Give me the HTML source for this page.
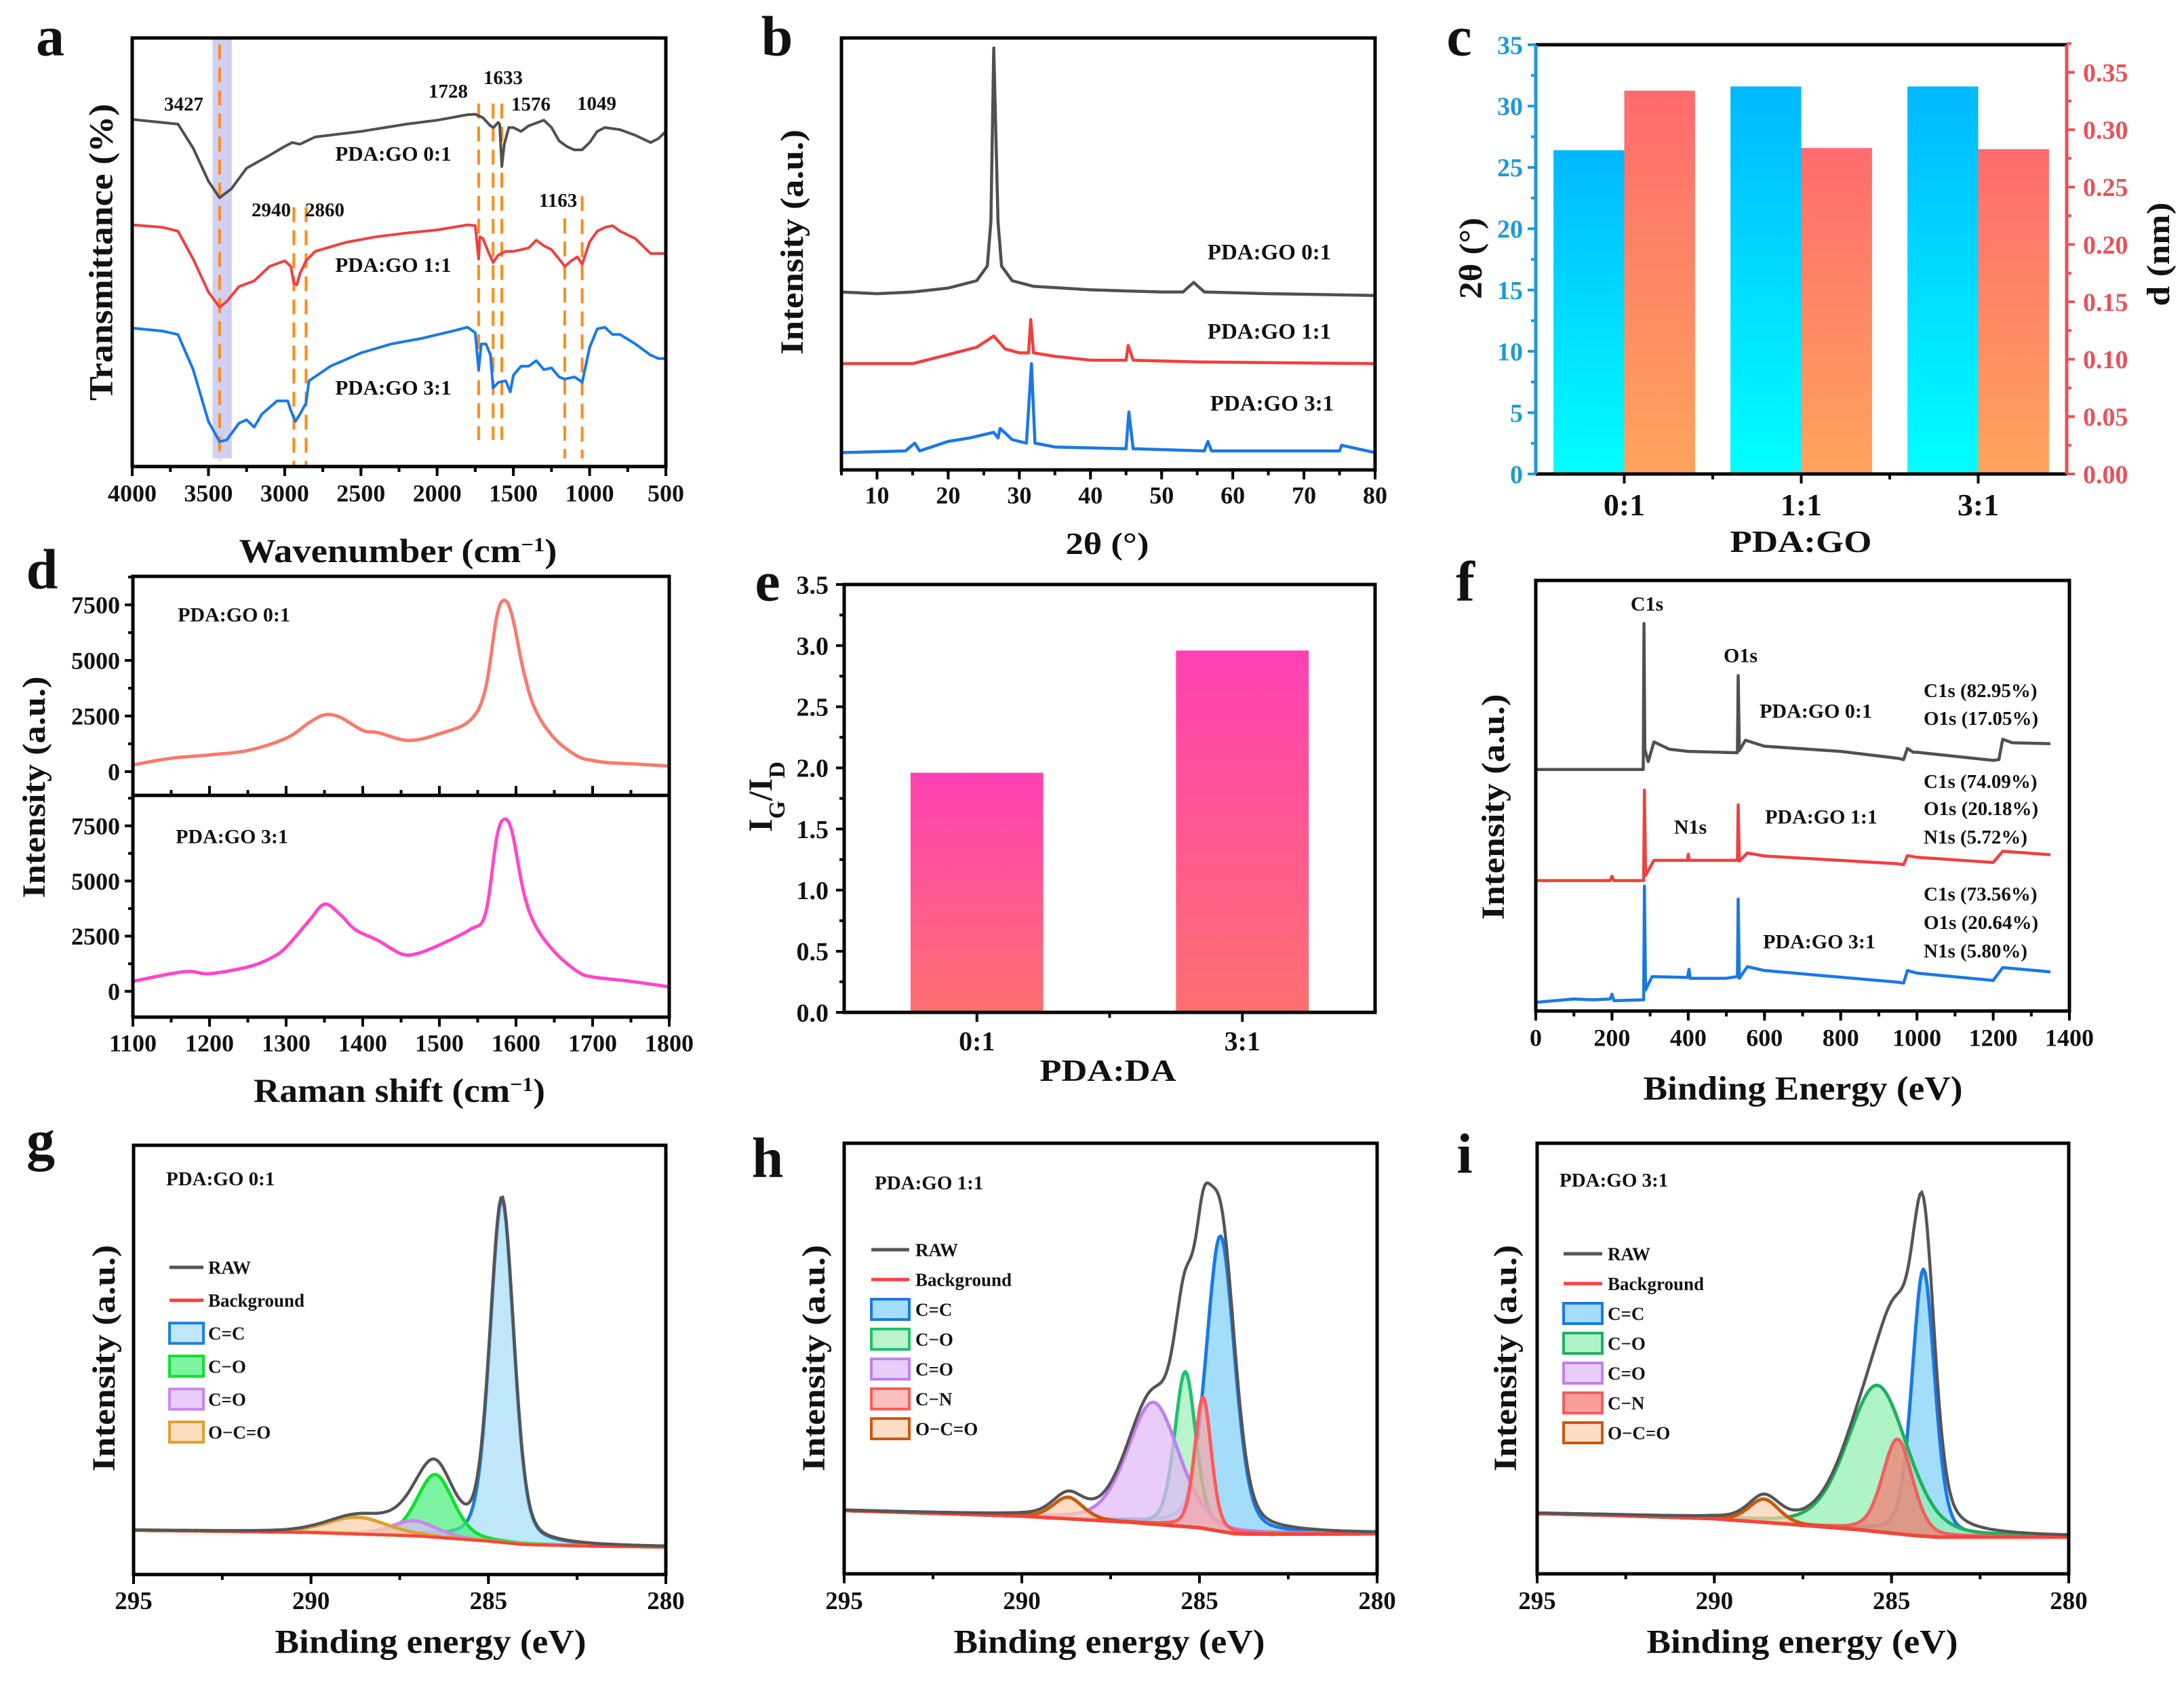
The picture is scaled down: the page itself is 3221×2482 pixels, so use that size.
<!DOCTYPE html>
<html><head><meta charset="utf-8"><style>
html,body{margin:0;padding:0;background:#fff}
svg{display:block}
text{font-family:"Liberation Serif","Times New Roman",serif;font-weight:bold;fill:#111}
</style></head><body>
<svg id="fig" xmlns="http://www.w3.org/2000/svg" width="3221" height="2482" viewBox="0 0 3221 2482"></svg>
<script>
// ---------- DATA ----------
// (a) FTIR
const ftirBlackWn=[4000,3700,3600,3500,3427,3350,3250,3100,3000,2950,2900,2800,2500,2200,2000,1800,1750,1700,1650,1630,1600,1590,1576,1560,1530,1500,1450,1400,1300,1250,1200,1150,1100,1050,1000,950,900,800,700,600,550,500];
const ftirBlackT=[81.0,79.9,74.3,66.6,62.7,64.8,69.6,72.6,74.7,75.6,75.2,76.9,78.2,79.9,80.8,82.1,82.2,81.4,79.5,79.1,80.3,79.9,70.0,75.2,79.1,79.1,78.2,79.5,80.8,79.1,76.0,74.7,73.9,73.9,75.6,78.2,79.1,78.6,77.3,75.6,76.5,78.2];
const ftirRedWn=[4000,3800,3700,3600,3500,3427,3380,3300,3200,3100,3000,2960,2940,2920,2900,2860,2800,2600,2400,2200,2000,1800,1750,1728,1720,1700,1660,1633,1600,1550,1500,1450,1400,1350,1300,1250,1200,1163,1120,1080,1049,1000,950,900,850,800,700,600,500];
const ftirRedT=[56.4,55.8,54.9,48.4,40.7,37.2,38.5,42.0,43.3,46.7,48.0,46.7,42.8,42.4,45.0,48.0,50.2,52.3,53.6,54.5,55.2,56.4,56.2,48.4,53.6,53.2,49.7,47.6,49.3,50.2,50.2,50.6,51.0,52.8,51.5,50.6,48.4,46.7,48.0,48.9,47.2,52.4,54.9,55.8,56.2,54.9,53.2,49.7,49.7];
const ftirBlueWn=[4000,3800,3700,3600,3500,3427,3380,3300,3250,3200,3150,3050,2980,2960,2930,2900,2860,2840,2700,2500,2300,2100,1900,1800,1750,1728,1710,1680,1650,1633,1600,1550,1520,1500,1450,1400,1350,1300,1250,1200,1163,1100,1060,1049,1000,950,900,850,800,700,600,550,500];
const ftirBlueT=[32.3,31.6,30.8,22.6,10.5,5.8,6.2,10.1,10.9,9.2,12.2,15.3,15.3,13.1,10.5,12.2,14.8,20.0,23.4,26.5,28.6,29.9,31.6,32.5,31.2,22.6,28.6,28.6,26.0,18.3,19.6,20.0,17.4,21.3,23.4,23.4,24.7,22.6,23.0,20.9,20.4,20.9,20.0,19.6,27.8,32.1,32.5,30.8,30.8,28.6,26.0,25.2,25.2];
const ftirMarks=[3427,2940,2860,1728,1633,1576,1163,1049];
const ftirMarkTop=[98.5,60.5,60.5,84.7,84.7,84.7,57.9,63.1];
const ftirMarkBot=[1.5,0,0,6.2,6.2,6.2,1.9,1.9];
const ftirTicks=[4000,3500,3000,2500,2000,1500,1000,500];
// (b) XRD
const xrdBlackX=[5,10,15,20,24,25.5,26,26.4,27,27.5,29,32,40,50,53,54.5,56,65,80];
const xrdBlackY=[41.2,40.8,41.2,42.1,43.8,47.2,57.5,97.7,57.5,47.2,43.8,42.5,41.7,41.2,41.2,43.4,41.2,40.8,40.4];
const xrdRedX=[5,15,20,24,26.4,28,30,31.3,31.6,32,35,40,45,45.3,46,55,80];
const xrdRedY=[24.6,24.6,26.7,28.4,31.0,28.0,27.1,27.1,34.8,27.1,26.3,25.4,25.4,28.8,25.4,25.0,24.6];
const xrdBlueX=[5,14,15.3,16,20,23,26.4,27,27.3,29,31,31.7,32.2,35,45,45.4,46,56,56.5,57,75,75.3,80];
const xrdBlueY=[4.0,4.4,6.2,4.4,6.6,7.4,8.7,7.4,9.6,7.0,6.2,24.6,6.2,5.3,4.9,13.4,4.9,4.4,6.6,4.4,4.4,5.7,4.0];
const xrdTicks=[10,20,30,40,50,60,70,80];
// (c) bars
const cCats=['0:1','1:1','3:1'];
const cTheta=[26.4,31.6,31.6];
const cD=[0.334,0.284,0.283];
const cLeftTicks=[0,5,10,15,20,25,30,35];
const cRightTicks=[0,0.05,0.10,0.15,0.20,0.25,0.30,0.35];
// (d) Raman
const ramanTopX=[1100,1150,1200,1250,1300,1330,1350,1370,1400,1420,1460,1500,1540,1560,1575,1585,1595,1610,1625,1650,1680,1700,1720,1750,1800];
const ramanTopY=[300,600,750,950,1500,2200,2550,2450,1850,1750,1400,1700,2300,3700,7000,7700,7000,4500,2800,1500,700,500,400,350,250];
const ramanBotX=[1100,1150,1175,1200,1250,1280,1300,1330,1350,1370,1390,1420,1450,1470,1500,1540,1560,1575,1585,1595,1610,1625,1650,1680,1700,1750,1800];
const ramanBotY=[450,800,900,800,1100,1500,2000,3200,3950,3500,2800,2300,1700,1700,2100,2800,3500,7000,7800,7200,4500,3000,1800,900,650,450,200];
const ramanXTicks=[1100,1200,1300,1400,1500,1600,1700,1800];
const ramanYTicks=[0,2500,5000,7500];
// (e) IG/ID
const eCats=['0:1','3:1'];
const eRatio=[1.96,2.96];
const eTicks=[0,0.5,1.0,1.5,2.0,2.5,3.0,3.5];
// (f) XPS survey
const surBlackX=[0,270,282,284,286,295,310,350,400,520,529,531,534,550,600,800,950,965,975,990,1000,1200,1215,1225,1250,1350];
const surBlackY=[56.1,56.1,56.1,90.0,60.8,57.9,62.5,60.8,60.3,60.0,60.0,77.9,60.5,62.9,61.5,60.3,58.7,58.4,61.0,60.1,60.1,58.2,58.4,63.1,62.3,62.1];
const surRedX=[0,195,200,205,280,283,285,288,310,398,400,402,500,529,531,534,555,600,950,965,975,1000,1200,1225,1350];
const surRedY=[30.3,30.3,31.3,30.3,30.3,30.3,51.3,31.5,35.0,35.0,36.4,35.0,35.0,35.0,47.9,34.8,36.7,36.0,34.2,34.0,36.1,35.7,34.5,37.1,36.3];
const surBlueX=[0,100,150,195,200,205,280,283,285,288,305,398,402,405,500,529,531,534,555,600,950,965,975,1000,1200,1225,1350];
const surBlueY=[2.0,2.8,2.6,2.8,3.9,2.4,2.6,2.6,29.0,4.9,8.0,7.8,9.7,7.6,7.6,8.0,26.0,7.6,10.3,9.4,6.7,6.5,9.4,8.8,7.1,10.1,9.1];
const surTicks=[0,200,400,600,800,1000,1200,1400];
// (g,h,i) C1s
const xpsTicks=[295,290,285,280];
const gBgX=[295,290,287,285,284,282,280];
const gBgY=[10.3,9.8,9.0,7.8,7.0,6.6,6.4];
const gNames=['C=C','C−O','C=O','O−C=O'];
const gCenters=[284.62,286.5,287.1,288.7];
const gHeights=[80,14.6,3.5,3.9];
const gFwhm=[0.8,1.2,1.5,2.0];
const hBgX=[295,290,287,285,284,283,280];
const hBgY=[14.7,13.4,12.0,10.7,9.3,9.2,9.3];
const hNames=['C=C','C−O','C=O','C−N','O−C=O'];
const hCenters=[284.41,285.4,286.3,284.9,288.7];
const hHeights=[68.6,36,28.3,30.5,5];
const hFwhm=[0.95,0.7,1.7,0.55,1.0];
const iBgX=[295,293,290,288,286,284.5,283.7,280];
const iBgY=[14.0,13.6,12.8,11.6,10.3,9.0,8.5,8.5];
const iNames=['C=C','C−O','C=O','C−N','O−C=O'];
const iCenters=[284.1,285.4,286.5,284.83,288.6];
const iHeights=[62,34,0,22,5.4];
const iFwhm=[0.75,2.0,1.5,1.0,1.0];

// ---------- HELPERS ----------
const NS='http://www.w3.org/2000/svg';
const svg=document.getElementById('fig');
function mk(tag,attrs,parent){const e=document.createElementNS(NS,tag);for(const k in attrs)e.setAttribute(k,attrs[k]);(parent||svg).appendChild(e);return e;}
function lin(d0,d1,r0,r1){return v=>r0+(v-d0)*(r1-r0)/(d1-d0);}
function T(s,x,y,fs,anchor,parent,extra){const a={x:x,y:y+fs*0.35,'font-size':fs,'text-anchor':anchor||'middle'};if(extra)for(const k in extra)a[k]=extra[k];const e=mk('text',a,parent);e.textContent=s;return e;}
function VT(s,x,y,fs,len,parent){const e=mk('text',{x:0,y:fs*0.35,'font-size':fs,'text-anchor':'middle',transform:'translate('+x+','+y+') rotate(-90)',textLength:len,lengthAdjust:'spacingAndGlyphs'},parent);e.textContent=s;return e;}
function path(xs,ys,sx,sy){return xs.map((x,i)=>(i?'L':'M')+sx(x).toFixed(1)+','+sy(ys[i]).toFixed(1)).join('');}
function smooth(xs,ys,sx,sy){const P=xs.map((x,i)=>[sx(x),sy(ys[i])]);let d='M'+P[0][0].toFixed(1)+','+P[0][1].toFixed(1);for(let i=0;i<P.length-1;i++){const p0=P[Math.max(0,i-1)],p1=P[i],p2=P[i+1],p3=P[Math.min(P.length-1,i+2)];const c1=[p1[0]+(p2[0]-p0[0])/6,p1[1]+(p2[1]-p0[1])/6],c2=[p2[0]-(p3[0]-p1[0])/6,p2[1]-(p3[1]-p1[1])/6];d+='C'+c1[0].toFixed(1)+','+c1[1].toFixed(1)+' '+c2[0].toFixed(1)+','+c2[1].toFixed(1)+' '+p2[0].toFixed(1)+','+p2[1].toFixed(1);}return d;}
function frame(name,x0,y0,x1,y1,parent){const r=mk('rect',{x:x0,y:y0,width:x1-x0,height:y1-y0,fill:'none',stroke:'#000','stroke-width':5},parent);

return r;}
function tickLine(x1,y1,x2,y2,color,parent,name){const l=mk('line',{x1:x1,y1:y1,x2:x2,y2:y2,stroke:color||'#000','stroke-width':4},parent);

return l;}
function xAxis(g,sx,majors,minorStep,y,labY,fs,fmt,name,lo,hi){
  majors.forEach(v=>{tickLine(sx(v),y,sx(v),y+14,'#000',g,name+'-tick');
    const t=T(fmt?fmt(v):String(v),sx(v),labY,fs,'middle',g);
    
    });
  if(minorStep){const a=Math.min(lo,hi),b=Math.max(lo,hi);for(let v=a;v<=b+1e-9;v+=minorStep){tickLine(sx(v),y,sx(v),y+8,'#000',g,name+'-minor-tick');}}
}
function group(name){const g=mk('g',{});

return g;}
function letter(s,x,y){const t=T(s,x,y,84,'middle');

}
function interp(xs,ys,x){for(let i=0;i<xs.length-1;i++){const a=xs[i],b=xs[i+1];if((x-a)*(x-b)<=0){return ys[i]+(ys[i+1]-ys[i])*(x-a)/(b-a);}}return ys[ys.length-1];}
function pv(x,c,h,w){const u=(x-c)/w;return h*(0.7*Math.exp(-4*Math.LN2*u*u)+0.3/(1+4*u*u));}

// ---------- PANEL A ----------
(function(){const g=group('panel-a-ftir');const X0=195,X1=982,Y0=56,Y1=688;
const sx=lin(4000,500,X0,X1),sy=lin(0,100,Y1,Y0);
const band=mk('rect',{x:sx(3473),y:Y0,width:sx(3347)-sx(3473),height:Y1-Y0-12,fill:'#c8c8f0',opacity:0.85},g);


ftirMarks.forEach((w,i)=>{const l=mk('line',{x1:sx(w),x2:sx(w),y1:sy(ftirMarkTop[i]),y2:sy(ftirMarkBot[i]),stroke:'#ff8c1a','stroke-width':4,'stroke-dasharray':'22,12'},g);

});
[[ftirBlackWn,ftirBlackT,'#505050','ftir-line-0-1'],[ftirRedWn,ftirRedT,'#f04040','ftir-line-1-1'],[ftirBlueWn,ftirBlueT,'#1a78e6','ftir-line-3-1']].forEach(s=>{const p=mk('path',{d:path(s[0],s[1],sx,sy),fill:'none',stroke:s[2],'stroke-width':4,'stroke-linejoin':'round'},g);

});
frame('panel-a',X0,Y0,X1,Y1,g);
xAxis(g,sx,ftirTicks,250,Y1,727,36,null,'ftir-x',4000,500);
const lab=[['3427',271,153],['1728',661,134],['1633',742,114],['1576',783,153],['1049',880,152],['2940',400,309],['2860',479,309],['1163',823,295]];
lab.forEach(l=>{const t=T(l[0],l[1],l[2],29,'middle',g);

});
[['PDA:GO 0:1',580,226],['PDA:GO 1:1',580,390],['PDA:GO 3:1',580,571]].forEach(l=>{const t=T(l[0],l[1],l[2],31,'middle',g);

});
const xt=mk('text',{x:587,y:812+17,'font-size':50,'text-anchor':'middle',textLength:469,lengthAdjust:'spacingAndGlyphs'},g);
xt.innerHTML='Wavenumber (cm<tspan baseline-shift="super" font-size="30">−1</tspan>)';


const yt=VT('Transmittance (%)',148,372,50,438,g);


letter('a',74,52);})();

// ---------- PANEL B ----------
(function(){const g=group('panel-b-xrd');const X0=1241,X1=2028,Y0=56,Y1=693;
const sx=lin(5,80,X0,X1),sy=lin(0,100,Y1,Y0);
[[xrdBlackX,xrdBlackY,'#505050','xrd-line-0-1'],[xrdRedX,xrdRedY,'#f04040','xrd-line-1-1'],[xrdBlueX,xrdBlueY,'#1a78e6','xrd-line-3-1']].forEach(s=>{const p=mk('path',{d:path(s[0],s[1],sx,sy),fill:'none',stroke:s[2],'stroke-width':4.5,'stroke-linejoin':'round'},g);

});
frame('panel-b',X0,Y0,X1,Y1,g);
xAxis(g,sx,xrdTicks,5,Y1,730,36,null,'xrd-x',5,80);
[['PDA:GO 0:1',1872,371],['PDA:GO 1:1',1872,488],['PDA:GO 3:1',1876,594]].forEach(l=>{const t=T(l[0],l[1],l[2],33,'middle',g);

});
const xt=T('2θ (°)',1633,801,46,'middle',g,{textLength:123,lengthAdjust:'spacingAndGlyphs'});


const yt=VT('Intensity (a.u.)',1167,357,48,332,g);


letter('b',1146,52);})();

// ---------- PANEL C ----------
(function(){const g=group('panel-c-bars');const X0=2265,X1=3048,Y0=66,Y1=699;
const defs=mk('defs',{},g);
const gb=mk('linearGradient',{id:'gBlue',x1:0,y1:0,x2:0,y2:1},defs);mk('stop',{offset:0,'stop-color':'#00b8ff'},gb);mk('stop',{offset:1,'stop-color':'#00ffff'},gb);
const gr=mk('linearGradient',{id:'gRed',x1:0,y1:0,x2:0,y2:1},defs);mk('stop',{offset:0,'stop-color':'#ff6b6e'},gr);mk('stop',{offset:1,'stop-color':'#ffa45c'},gr);
const sx=lin(0.5,3.5,X0,X1),syL=lin(0,35,Y1,Y0),syR=lin(0,0.374,Y1,Y0);
const bw=(sx(1.4)-sx(1));
cCats.forEach((c,i)=>{const cx=sx(i+1);
const b1=mk('rect',{x:cx-bw,y:syL(cTheta[i]),width:bw,height:Y1-syL(cTheta[i]),fill:'url(#gBlue)'},g);


const b2=mk('rect',{x:cx,y:syR(cD[i]),width:bw,height:Y1-syR(cD[i]),fill:'url(#gRed)'},g);


tickLine(cx,Y1,cx,Y1+14,'#000',g,'c-x-tick');
const t=T(c,cx,744,46,'middle',g);

});
[1.5,2.5].forEach(v=>tickLine(sx(v),Y1,sx(v),Y1+8,'#000',g,'c-x-minor-tick'));
const top=mk('line',{x1:X0,x2:X1,y1:Y0,y2:Y0,stroke:'#000','stroke-width':5},g);
const bot=mk('line',{x1:X0,x2:X1,y1:Y1,y2:Y1,stroke:'#000','stroke-width':5},g);
const la=mk('line',{x1:X0,x2:X0,y1:Y0,y2:Y1,stroke:'#1e9ad6','stroke-width':5},g);
const ra=mk('line',{x1:X1,x2:X1,y1:Y0,y2:Y1,stroke:'#e8525a','stroke-width':5},g);
cLeftTicks.forEach(v=>{tickLine(X0,syL(v),X0-12,syL(v),'#1e9ad6',g,'c-left-tick');
const t=T(String(v),2246,syL(v),38,'end',g,{style:'fill:#1e9ad6'});


if(v<35)tickLine(X0,syL(v+2.5),X0-7,syL(v+2.5),'#1e9ad6',g,'c-left-minor-tick');});
cRightTicks.forEach(v=>{tickLine(X1,syR(v),X1+12,syR(v),'#e8525a',g,'c-right-tick');
const t=T(v.toFixed(2),3072,syR(v),38,'start',g,{style:'fill:#e8525a'});


tickLine(X1,syR(v+0.025),X1+7,syR(v+0.025),'#e8525a',g,'c-right-minor-tick');});
const xt=T('PDA:GO',2656,798,46,'middle',g,{textLength:209,lengthAdjust:'spacingAndGlyphs'});


const yl=VT('2θ (°)',2168,381,48,120,g);


const yr=VT('d (nm)',3182,375,48,153,g);


letter('c',2152,52);})();

// ---------- PANEL D ----------
(function(){const g=group('panel-d-raman');const X0=196,X1=987,Y0=850,YM=1173,Y1=1500;
const sx=lin(1100,1800,X0,X1);
const syT=lin(-1070,8780,YM,Y0),syB=lin(-1170,8880,Y1,YM);
const p1=mk('path',{d:smooth(ramanTopX,ramanTopY,sx,syT),fill:'none',stroke:'#f87b6e','stroke-width':5},g);


const p2=mk('path',{d:smooth(ramanBotX,ramanBotY,sx,syB),fill:'none',stroke:'#ff48c8','stroke-width':5},g);


frame('panel-d-top',X0,Y0,X1,YM,g);frame('panel-d-bottom',X0,YM,X1,Y1,g);
ramanXTicks.forEach(v=>{tickLine(sx(v),YM,sx(v),YM-14,'#000',g,'d-top-x-tick');});
for(let v=1150;v<1800;v+=100)tickLine(sx(v),YM,sx(v),YM-8,'#000',g,'d-top-x-minor-tick');
xAxis(g,sx,ramanXTicks,50,Y1,1538,36,null,'raman-x',1100,1800);
[[syT,'top'],[syB,'bottom']].forEach(s=>{ramanYTicks.forEach(v=>{tickLine(X0,s[0](v),X0-12,s[0](v),'#000',g,'d-y-tick');
const t=T(String(v),177,s[0](v),36,'end',g);


tickLine(X0,s[0](v+1250),X0-7,s[0](v+1250),'#000',g,'d-y-minor-tick');});});
const l1=T('PDA:GO 0:1',345,906,30,'middle',g);
const l2=T('PDA:GO 3:1',342,1233,30,'middle',g);
const xt=mk('text',{x:589,y:1608+17,'font-size':50,'text-anchor':'middle',textLength:430,lengthAdjust:'spacingAndGlyphs'},g);
xt.innerHTML='Raman shift (cm<tspan baseline-shift="super" font-size="30">−1</tspan>)';


const yt=VT('Intensity (a.u.)',49,1161,48,327,g);


letter('d',62,838);})();

// ---------- PANEL E ----------
(function(){const g=group('panel-e-ratio');const X0=1245,X1=2028,Y0=862,Y1=1493;
const defs=mk('defs',{},g);
const gp=mk('linearGradient',{id:'gPink',x1:0,y1:0,x2:0,y2:1},defs);mk('stop',{offset:0,'stop-color':'#ff40b4'},gp);mk('stop',{offset:1,'stop-color':'#ff7070'},gp);
const sx=lin(0.5,2.5,X0,X1),sy=lin(0,3.5,Y1,Y0);const bw=sx(1.5)-sx(1);
eCats.forEach((c,i)=>{const cx=sx(i+1);
const b=mk('rect',{x:cx-bw/2,y:sy(eRatio[i]),width:bw,height:Y1-sy(eRatio[i]),fill:'url(#gPink)'},g);


tickLine(cx,Y1,cx,Y1+14,'#000',g,'e-x-tick');
const t=T(c,cx,1535,40,'middle',g);

});
tickLine(sx(1.5),Y1,sx(1.5),Y1+8,'#000',g,'e-x-minor-tick');
frame('panel-e',X0,Y0,X1,Y1,g);
eTicks.forEach(v=>{tickLine(X0,sy(v),X0-12,sy(v),'#000',g,'e-y-tick');
const t=T(v.toFixed(1),1222,sy(v),38,'end',g);


if(v<3.5)tickLine(X0,sy(v+0.25),X0-7,sy(v+0.25),'#000',g,'e-y-minor-tick');});
const xt=T('PDA:DA',1634,1578,46,'middle',g,{textLength:201,lengthAdjust:'spacingAndGlyphs'});


const yt=mk('text',{x:0,y:17,'font-size':50,'text-anchor':'middle',transform:'translate(1121,1175) rotate(-90)'},g);
yt.innerHTML='I<tspan baseline-shift="sub" font-size="34">G</tspan>/I<tspan baseline-shift="sub" font-size="34">D</tspan>';


letter('e',1132,856);})();

// ---------- PANEL F ----------
(function(){const g=group('panel-f-survey');const X0=2265,X1=3052,Y0=856,Y1=1491;
const sx=lin(0,1400,X0,X1),sy=lin(0,100,Y1,Y0);
[[surBlackX,surBlackY,'#505050','survey-line-0-1'],[surRedX,surRedY,'#f04040','survey-line-1-1'],[surBlueX,surBlueY,'#1a78e6','survey-line-3-1']].forEach(s=>{const p=mk('path',{d:path(s[0],s[1],sx,sy),fill:'none',stroke:s[2],'stroke-width':4.5,'stroke-linejoin':'round'},g);

});
frame('panel-f',X0,Y0,X1,Y1,g);
xAxis(g,sx,surTicks,100,Y1,1530,36,null,'survey-x',0,1400);
const labs=[['C1s',2429,890,30,'middle'],['O1s',2567,966,30,'middle'],['N1s',2493,1219,30,'middle'],['PDA:GO 0:1',2678,1048,30,'middle'],['PDA:GO 1:1',2686,1204,30,'middle'],['PDA:GO 3:1',2683,1388,30,'middle'],
['C1s (82.95%)',2837,1018,29,'start'],['O1s (17.05%)',2837,1059,29,'start'],['C1s (74.09%)',2837,1152,29,'start'],['O1s (20.18%)',2837,1192,29,'start'],['N1s  (5.72%)',2837,1234,29,'start'],['C1s (73.56%)',2837,1318,29,'start'],['O1s (20.64%)',2837,1360,29,'start'],['N1s (5.80%)',2837,1402,29,'start']];
labs.forEach(l=>{const t=T(l[0],l[1],l[2],l[3],l[4],g,{'xml:space':'preserve'});

});
const xt=T('Binding Energy (eV)',2659,1604,50,'middle',g,{textLength:471,lengthAdjust:'spacingAndGlyphs'});


const yt=VT('Intensity (a.u.)',2201,1190,48,333,g);


letter('f',2161,856);})();

// ---------- PANELS G H I ----------
function xpsPanel(cfg){const g=group(cfg.name);const X0=cfg.x0,X1=cfg.x1,Y0=cfg.y0,Y1=cfg.y1;
const sx=lin(295,280,X0,X1),sy=lin(0,100,Y1,Y0);
const xs=[];for(let x=295;x>=280-1e-9;x-=0.05)xs.push(+x.toFixed(3));
const bg=xs.map(x=>interp(cfg.bgX,cfg.bgY,x));
cfg.names.forEach((n,k)=>{if(cfg.heights[k]<=0)return;
const top=xs.map((x,i)=>bg[i]+pv(x,cfg.centers[k],cfg.heights[k],cfg.fwhm[k]));
let d=xs.map((x,i)=>(i?'L':'M')+sx(x).toFixed(1)+','+sy(top[i]).toFixed(1)).join('');
for(let i=xs.length-1;i>=0;i--)d+='L'+sx(xs[i]).toFixed(1)+','+sy(bg[i]).toFixed(1);d+='Z';
const p=mk('path',{d:d,fill:cfg.fills[k],'fill-opacity':0.72,stroke:cfg.strokes[k],'stroke-width':5,'stroke-linejoin':'round'},g);

});
const bl=mk('path',{d:path(xs,bg,sx,sy),fill:'none',stroke:'#ff4040','stroke-width':4},g);


const raw=xs.map((x,i)=>bg[i]+cfg.names.reduce((s,n,k)=>s+pv(x,cfg.centers[k],cfg.heights[k],cfg.fwhm[k]),0));
const rl=mk('path',{d:path(xs,raw,sx,sy),fill:'none',stroke:'#555','stroke-width':4.5},g);


frame(cfg.name,X0,Y0,X1,Y1,g);
xAxis(g,sx,xpsTicks,2.5,Y1,2360,37,null,'xps-x',280,295);
const tl=T(cfg.title,cfg.tx,cfg.ty,29,'start',g);


// legend
const L=cfg.leg;let y=L.y0;
const r1=mk('line',{x1:L.x,x2:L.x+L.w,y1:y,y2:y,stroke:'#555','stroke-width':5},g);
const t1=T('RAW',L.tx,y,27,'start',g);y+=L.dy;
const r2=mk('line',{x1:L.x,x2:L.x+L.w,y1:y,y2:y,stroke:'#ff4040','stroke-width':5},g);
const t2=T('Background',L.tx,y,27,'start',g);y+=L.dy;
cfg.names.forEach((n,k)=>{const r=mk('rect',{x:L.x,y:y-15,width:L.w,height:30,fill:cfg.fills[k],'fill-opacity':0.72,stroke:cfg.strokes[k],'stroke-width':4},g);


const t=T(n,L.tx,y,27,'start',g);

y+=L.dy;});
const xt=T('Binding energy (eV)',cfg.xtx,2420,50,'middle',g,{textLength:459,lengthAdjust:'spacingAndGlyphs'});


const yt=VT('Intensity (a.u.)',cfg.ytx,2003,48,334,g);


letter(cfg.letter,cfg.lx,cfg.ly);}

xpsPanel({name:'panel-g-c1s',letter:'g',lx:60,ly:1680,x0:197,x1:982,y0:1689,y1:2322,title:'PDA:GO 0:1',tx:245,ty:1738,
bgX:gBgX,bgY:gBgY,names:gNames,centers:gCenters,heights:gHeights,fwhm:gFwhm,
fills:['#a8dcf8','#4cf080','#e0b8f8','#fcd0a8'],strokes:['#1c7fe0','#10e030','#c888f0','#e0a030'],
leg:{x:250,w:50,tx:307,y0:1869,dy:48.6},xtx:635,ytx:152});
xpsPanel({name:'panel-h-c1s',letter:'h',lx:1132,ly:1706,x0:1245,x1:2031,y0:1686,y1:2321,title:'PDA:GO 1:1',tx:1290,ty:1744,
bgX:hBgX,bgY:hBgY,names:hNames,centers:hCenters,heights:hHeights,fwhm:hFwhm,
fills:['#80d0f8','#a0f0b8','#e0b8f8','#f8a8a8','#fcd0b0'],strokes:['#1a78e6','#20c070','#c080f0','#ff5a5a','#c85a10'],
leg:{x:1285,w:56,tx:1350,y0:1843,dy:44},xtx:1636,ytx:1199});
xpsPanel({name:'panel-i-c1s',letter:'i',lx:2160,ly:1700,x0:2267,x1:3051,y0:1686,y1:2321,title:'PDA:GO 3:1',tx:2300,ty:1740,
bgX:iBgX,bgY:iBgY,names:iNames,centers:iCenters,heights:iHeights,fwhm:iFwhm,
fills:['#80d0f8','#90f0b0','#e0b8f8','#f87870','#fcd0b0'],strokes:['#1a78e6','#20b060','#c080f0','#f06060','#c85a10'],
leg:{x:2306,w:57,tx:2371,y0:1849,dy:44},xtx:2658,ytx:2219});
</script>
</body></html>
